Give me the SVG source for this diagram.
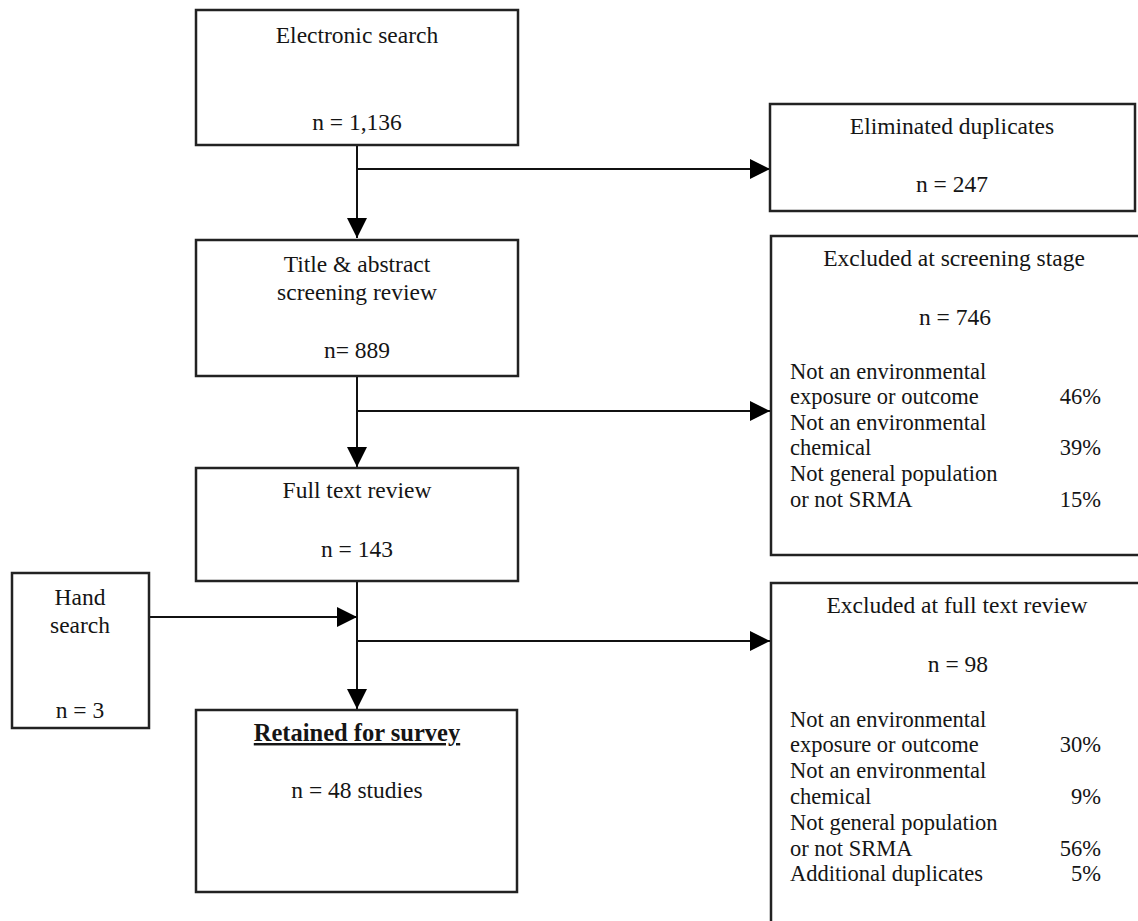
<svg xmlns="http://www.w3.org/2000/svg" width="1138" height="921" viewBox="0 0 1138 921">
<style>
.box{fill:#fff;stroke:#222;stroke-width:2.5}
.t{font-family:"Liberation Serif","Times New Roman",serif;font-size:22.5px;fill:#151515}
.h{font-size:23.5px}
.b{font-size:24.5px;font-weight:bold;text-decoration:underline}
.c{text-anchor:middle}
.r{text-anchor:end}
.conn{stroke:#111;stroke-width:2;fill:none}
</style>
<defs>
<marker id="ah" viewBox="0 0 20 20" refX="20" refY="10" markerWidth="20" markerHeight="20" markerUnits="userSpaceOnUse" orient="auto">
<path d="M0,0 L20,10 L0,20 z" fill="#000"/>
</marker>
</defs>
<rect width="1138" height="921" fill="#fff"/>
<g id="connectors">
<path class="conn" d="M357,145 V238" marker-end="url(#ah)"/>
<path class="conn" d="M357,169 H770" marker-end="url(#ah)"/>
<path class="conn" d="M357,376 V467" marker-end="url(#ah)"/>
<path class="conn" d="M357,411 H770" marker-end="url(#ah)"/>
<path class="conn" d="M357,581 V709" marker-end="url(#ah)"/>
<path class="conn" d="M357,641 H770" marker-end="url(#ah)"/>
<path class="conn" d="M149,617 H357" marker-end="url(#ah)"/>
</g>
<g id="electronic">
<rect class="box" x="196" y="10" width="322" height="135"/>
<text class="t h c" x="357" y="43">Electronic search</text>
<text class="t h c" x="357" y="130">n = 1,136</text>
</g>
<g id="duplicates">
<rect class="box" x="770" y="104" width="365" height="107"/>
<text class="t h c" x="952" y="134">Eliminated duplicates</text>
<text class="t h c" x="952" y="192">n = 247</text>
</g>
<g id="title-abstract">
<rect class="box" x="196" y="240" width="322" height="136"/>
<text class="t h c" x="357" y="272">Title &amp; abstract</text>
<text class="t h c" x="357" y="300">screening review</text>
<text class="t h c" x="357" y="358">n= 889</text>
</g>
<g id="excluded-screening">
<rect class="box" x="771" y="236" width="380" height="319"/>
<text class="t h c" x="954" y="266">Excluded at screening stage</text>
<text class="t h c" x="955" y="325">n = 746</text>
<text class="t" x="790" y="379">Not an environmental</text>
<text class="t" x="790" y="404">exposure or outcome</text>
<text class="t r" x="1101" y="404">46%</text>
<text class="t" x="790" y="430">Not an environmental</text>
<text class="t" x="790" y="455">chemical</text>
<text class="t r" x="1101" y="455">39%</text>
<text class="t" x="790" y="481">Not general population</text>
<text class="t" x="790" y="507">or not SRMA</text>
<text class="t r" x="1101" y="507">15%</text>
</g>
<g id="full-text">
<rect class="box" x="196" y="468" width="322" height="113"/>
<text class="t h c" x="357" y="498">Full text review</text>
<text class="t h c" x="357" y="557">n = 143</text>
</g>
<g id="hand-search">
<rect class="box" x="12" y="573" width="137" height="155"/>
<text class="t h c" x="80" y="605">Hand</text>
<text class="t h c" x="80" y="633">search</text>
<text class="t h c" x="80" y="718">n = 3</text>
</g>
<g id="excluded-fulltext">
<rect class="box" x="771" y="583" width="380" height="360"/>
<text class="t h c" x="957" y="613">Excluded at full text review</text>
<text class="t h c" x="958" y="672">n = 98</text>
<text class="t" x="790" y="727">Not an environmental</text>
<text class="t" x="790" y="752">exposure or outcome</text>
<text class="t r" x="1101" y="752">30%</text>
<text class="t" x="790" y="778">Not an environmental</text>
<text class="t" x="790" y="804">chemical</text>
<text class="t r" x="1101" y="804">9%</text>
<text class="t" x="790" y="830">Not general population</text>
<text class="t" x="790" y="856">or not SRMA</text>
<text class="t r" x="1101" y="856">56%</text>
<text class="t" x="790" y="881">Additional duplicates</text>
<text class="t r" x="1101" y="881">5%</text>
</g>
<g id="retained">
<rect class="box" x="196" y="710" width="321" height="182"/>
<text class="t b c" x="357" y="741">Retained for survey</text>
<text class="t h c" x="357" y="798">n = 48 studies</text>
</g>
</svg>
